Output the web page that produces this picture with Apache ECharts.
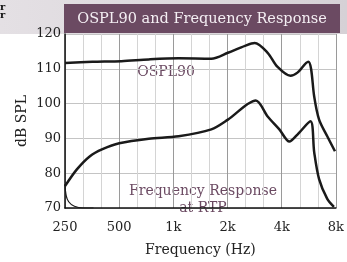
<!DOCTYPE html>
<html>
<head>
<meta charset="utf-8">
<script src="https://cdn.jsdelivr.net/npm/echarts@6/dist/echarts.min.js"></script>
<style>
  html, body { margin: 0; padding: 0; background: #fff; }
  #chart { width: 347px; height: 262px; }
</style>
</head>
<body>
<div id="chart"></div>
<script>
// x axis is in octaves above 250 Hz
var baseFreq = 250;
var freqLabels = ["250", "500", "1k", "2k", "4k", "8k"];
var dbTicks = [70, 80, 90, 100, 110, 120];

var osplFreq = [250, 355, 515, 730, 1070, 1625, 2010, 2500, 2830, 3340, 3780, 4470, 4890, 5620, 5820, 6060, 6450, 7160, 7900];
var osplDb   = [111.7, 112, 112.2, 112.7, 113, 112.9, 114.6, 116.6, 117.4, 114.6, 110.6, 108, 108.9, 112, 110, 102, 95.4, 90.6, 86.3];

var frFreq = [250, 291, 344, 404, 500, 730, 1070, 1625, 2010, 2870, 3340, 3880, 4410, 4890, 5775, 6060, 6450, 7160, 7800];
var frDb   = [76.3, 81.1, 84.9, 86.9, 88.6, 89.9, 90.6, 92.6, 95.4, 100.9, 96.3, 92.6, 89.1, 91.1, 94.9, 86, 78.3, 72.6, 70.3];

// thin curve at lower left
var lowFreq = [250, 253, 262, 282, 315, 360];
var lowDb   = [76.8, 74, 71.8, 70.5, 70, 70];

var font = '"DejaVu Serif", serif';
var purple = "#6b4a62";

function octave(f) { return Math.log2(f / baseFreq); }
function pairs(fs, vs) {
  return fs.map(function (f, i) { return [octave(f), vs[i]]; });
}

var myChart = echarts.init(document.getElementById("chart"));
myChart.setOption({
  animation: false,
  grid: { left: 65, right: 8, top: 34, height: 175 },
  xAxis: {
    type: "value",
    min: 0,
    max: freqLabels.length - 1,
    interval: 1,
    name: "Frequency (Hz)",
    nameLocation: "middle",
    nameGap: 35,
    nameTextStyle: { fontFamily: font, fontSize: 14, color: "#222" },
    axisLine: { lineStyle: { color: "#111", width: 1.5 } },
    axisTick: { show: false },
    axisLabel: {
      fontFamily: font, fontSize: 13, color: "#222", margin: 13,
      formatter: function (v) { return freqLabels[Math.round(v)]; }
    },
    splitLine: { show: true, lineStyle: { color: "#9a9a9a", width: 1 } },
    minorTick: { show: false, splitNumber: 3 },
    minorSplitLine: { show: true, lineStyle: { color: "#d4d4d4", width: 1 } }
  },
  yAxis: {
    type: "value",
    min: dbTicks[0],
    max: dbTicks[dbTicks.length - 1],
    interval: 10,
    name: "dB SPL",
    nameLocation: "middle",
    nameGap: 36,
    nameMoveOverlap: false,
    nameTextStyle: { fontFamily: font, fontSize: 14, color: "#222" },
    axisLine: { show: true, lineStyle: { color: "#111", width: 1.5 } },
    axisTick: { show: false },
    axisLabel: { fontFamily: font, fontSize: 13, color: "#222", margin: 4 },
    splitLine: { show: true, lineStyle: { color: "#c4c4c4", width: 1 } }
  },
  series: [
    {
      name: "OSPL90",
      type: "line",
      data: pairs(osplFreq, osplDb),
      smooth: 0.3,
      symbol: "none",
      lineStyle: { color: "#1a1a1a", width: 2.5 }
    },
    {
      name: "Frequency Response",
      type: "line",
      data: pairs(frFreq, frDb),
      smooth: 0.3,
      symbol: "none",
      lineStyle: { color: "#1a1a1a", width: 2.5 }
    },
    {
      name: "low",
      type: "line",
      data: pairs(lowFreq, lowDb),
      smooth: 0.5,
      symbol: "none",
      lineStyle: { color: "#1a1a1a", width: 1.2 }
    }
  ],
  graphic: [
    {
      type: "rect",
      shape: { x: 0, y: 0, width: 347, height: 34 },
      style: {
        fill: new echarts.graphic.LinearGradient(0, 0, 1, 0, [
          { offset: 0, color: "#e4e0e4" },
          { offset: 1, color: "#d6d1d6" }
        ])
      },
      z: -10
    },
    {
      type: "rect",
      shape: { x: 64, y: 4, width: 276, height: 29 },
      style: { fill: purple },
      z: -5
    },
    {
      type: "text",
      x: 202, y: 19,
      style: {
        text: "OSPL90 and Frequency Response",
        fill: "#f4eef3", font: "14.5px " + font,
        textAlign: "center", textVerticalAlign: "middle"
      }
    },
    {
      type: "text",
      x: 0, y: 3,
      style: { text: "r\nr", fill: "#111", font: "bold 10px " + font, lineHeight: 8 }
    },
    {
      type: "text",
      x: 166, y: 72,
      style: {
        text: "OSPL90", fill: purple, font: "14px " + font,
        textAlign: "center", textVerticalAlign: "middle"
      }
    },
    {
      type: "text",
      x: 203, y: 200,
      style: {
        text: "Frequency Response\nat RTP", fill: purple, font: "14px " + font,
        textAlign: "center", textVerticalAlign: "middle", lineHeight: 17
      }
    }
  ]
});
</script>
</body>
</html>
